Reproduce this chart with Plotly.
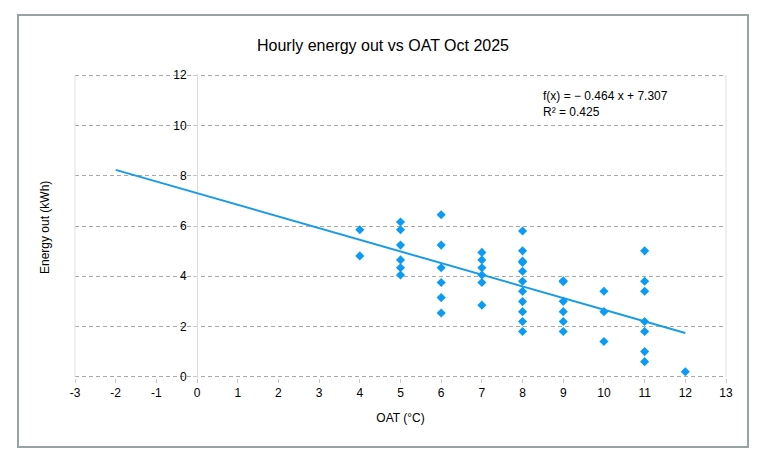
import plotly.graph_objects as go

# Data
oat = [4, 4,
       5, 5, 5, 5, 5, 5,
       6, 6, 6, 6, 6, 6,
       7, 7, 7, 7, 7, 7,
       8, 8, 8, 8, 8, 8, 8, 8, 8, 8, 8,
       9, 9, 9, 9, 9, 9,
       10, 10, 10,
       11, 11, 11, 11, 11, 11, 11,
       12]
energy = [5.85, 4.81,
          6.16, 5.85, 5.24, 4.65, 4.34, 4.05,
          6.45, 5.24, 4.34, 3.75, 3.15, 2.54,
          4.95, 4.65, 4.34, 4.05, 3.75, 2.85,
          5.80, 5.01, 4.60, 4.55, 4.20, 3.80, 3.40, 2.99, 2.59, 2.20, 1.80,
          3.82, 3.78, 3.00, 2.59, 2.20, 1.80,
          3.40, 2.59, 1.40,
          5.01, 3.80, 3.40, 2.20, 1.80, 1.00, 0.60,
          0.20]

slope = -0.464
intercept = 7.307
r2 = 0.425
trend_x = [-2, 12]
trend_y = [slope * v + intercept for v in trend_x]

x_ticks = list(range(-3, 14))
x_labels = [str(v) for v in x_ticks]  # plain hyphen minus as in the reference
y_ticks = list(range(0, 13, 2))

FONT = "Liberation Sans, Arial, sans-serif"
BLUE = "#0a9cf5"
LINE_BLUE = "#1a9be8"

# page body has an 8px default margin; compensate so the plot sits where the reference has it
OFF = 8
PAD = 0.05
PW = 651
PH = 302
L, R, T, B = 75 - OFF, 43 + OFF, 75 - OFF, 93 + OFF
# extend plot area slightly so the 0 and 12 gridlines are drawn
padpx = PAD * PH / 12
T2, B2 = int(round(T - padpx)), int(round(B - padpx))
PH2 = 470 - T2 - B2
PLOT_BOTTOM = OFF + 470 - B2  # page pixel of plot-area bottom


def py(pix):
    """page pixel row -> paper y fraction"""
    return (PLOT_BOTTOM - pix) / PH2


fig = go.Figure()
fig.add_trace(go.Scatter(x=trend_x, y=trend_y, mode="lines",
                         line=dict(color=LINE_BLUE, width=2),
                         hoverinfo="skip", showlegend=False))
fig.add_trace(go.Scatter(x=oat, y=energy, mode="markers",
                         marker=dict(symbol="diamond", size=7, color=BLUE),
                         showlegend=False))

fig.update_layout(
    width=769, height=470,
    margin=dict(l=L, r=R, t=T2, b=B2),
    paper_bgcolor="white", plot_bgcolor="white",
    font=dict(family=FONT, color="#000000", size=12),
    title=dict(text="Hourly energy out vs OAT Oct 2025", x=(383 - OFF) / 769, xanchor="center",
               y=1 - (45 - OFF) / 470, yanchor="middle", font=dict(size=16)),
    xaxis=dict(range=[-3, 13], tickvals=x_ticks, ticktext=x_labels, showgrid=False,
               zeroline=True, zerolinecolor="#dcdcdc", zerolinewidth=1,
               ticks="outside", ticklen=4, tickcolor="#c8c8c8",
               showline=False, tickfont=dict(size=12),
               title=dict(text="OAT (°C)", font=dict(size=12), standoff=14)),
    yaxis=dict(range=[-PAD, 12 + PAD], tickvals=y_ticks, showgrid=True,
               gridcolor="#a8a8a8", griddash="4px,3px", gridwidth=1,
               zeroline=False, anchor="free", position=3 / 16,
               ticks="outside", ticklen=4, tickcolor="#c8c8c8",
               ticklabelstandoff=4,
               tickfont=dict(size=12)),
    shapes=[
        dict(type="line", xref="paper", yref="paper", x0=0, x1=0, y0=py(377), y1=py(75),
             line=dict(color="#e0e0e0", width=1)),
        dict(type="line", xref="paper", yref="paper", x0=1, x1=1, y0=py(377), y1=py(75),
             line=dict(color="#e0e0e0", width=1)),
        dict(type="rect", xref="paper", yref="paper",
             x0=(18 - 75) / PW, x1=(748 - 75) / PW,
             y0=py(447), y1=py(15),
             line=dict(color="#98a3a3", width=2), layer="below"),
    ],
    annotations=[
        dict(text="Energy out (kWh)", xref="paper", yref="paper",
             x=(45 - 75) / PW, y=py(228), textangle=-90, showarrow=False,
             xanchor="center", yanchor="middle", font=dict(size=12)),
        dict(text=f"f(x) = − {abs(slope):.3f} x + {intercept:.3f}<br>R² = {r2:.3f}",
             xref="paper", yref="paper", x=(541 - 75) / PW, y=py(87),
             xanchor="left", yanchor="top", align="left", showarrow=False,
             font=dict(size=12)),
    ],
)

fig.write_html("out.html")
